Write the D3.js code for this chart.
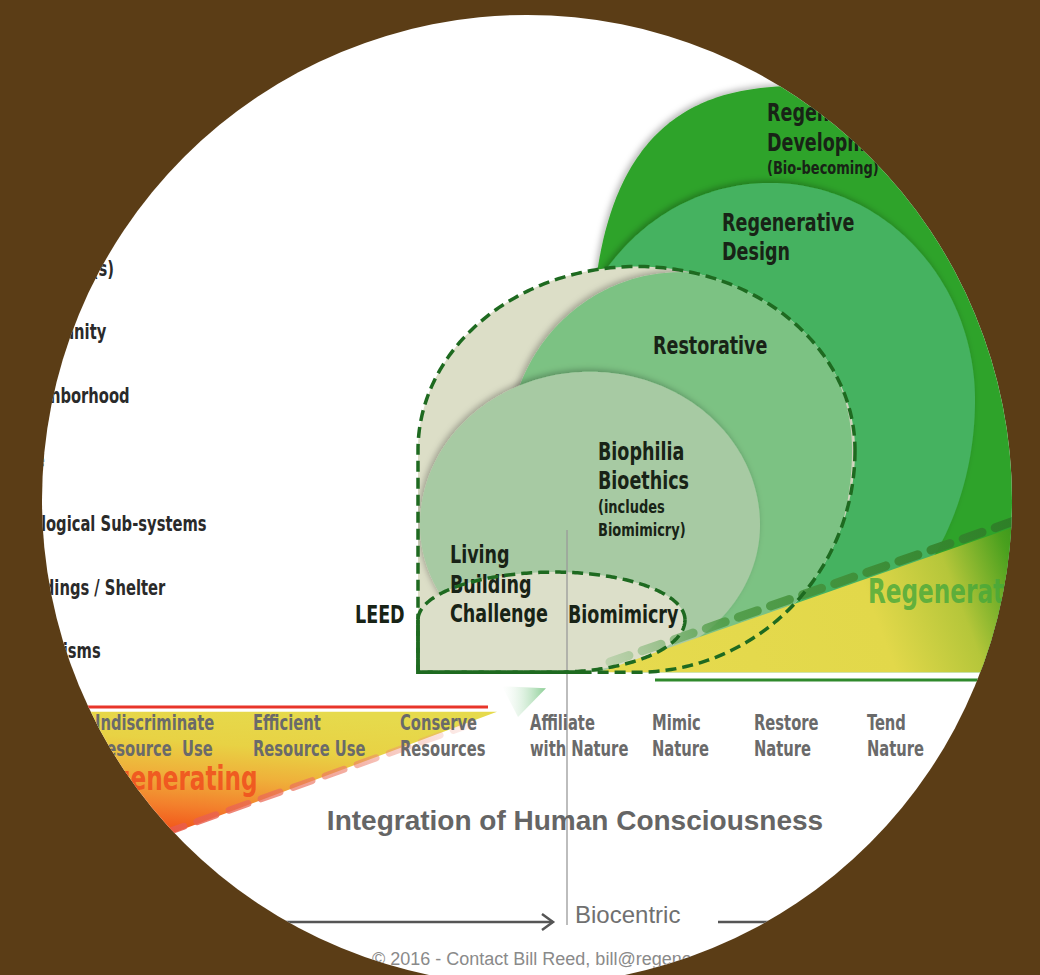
<!DOCTYPE html>
<html><head><meta charset="utf-8">
<script src="https://cdn.jsdelivr.net/npm/d3@7"></script>
<style>
html,body{margin:0;padding:0;background:#5b3d16;}
svg{display:block;}
.cond{font-family:"Liberation Sans Narrow","Arial Narrow","DejaVu Sans Condensed",sans-serif;font-weight:bold;}
.sans{font-family:"Liberation Sans",Arial,Helvetica,sans-serif;}
</style></head><body>
<svg id="chart" width="1040" height="975"></svg>
<script>
// ================= DATA (integration axis u, scale axis v) =================
const scaleLevels = [1, 2, 3, 4, 5, 6, 7];
const scaleLabels = ["Organisms", "Buildings / Shelter", "Ecological Sub-systems", "Site",
                     "Neighborhood", "Community", "Bioregion(s)"];
const stageLabels = [["Indiscriminate", "Resource  Use"], ["Efficient", "Resource Use"],
                     ["Conserve", "Resources"], ["Affiliate", "with Nature"],
                     ["Mimic", "Nature"], ["Restore", "Nature"], ["Tend", "Nature"]];
const stagePositions = [0.55, 2.13, 3.60, 4.90, 6.12, 7.14, 8.27];
const baselineLevel = 0.67;

// approach zones: centre (u,v), half-extents left/right (u), top/bottom (v)
const zoneNames   = ["Regenerative Development", "Regenerative Design", "Envelope",
                     "Restorative", "Biophilia", "Biomimicry"];
const zoneCenterU = [7.90, 7.30, 5.97, 6.40, 5.50, 5.15];
const zoneCenterV = [4.62, 4.94, 4.15, 4.15, 2.98, 1.49];
const zoneLeft    = [2.40, 2.05, 2.19, 1.72, 1.70, 1.37];
const zoneRight   = [2.40, 2.05, 2.18, 1.72, 1.70, 1.30];
const zoneTop     = [5.25, 3.40, 2.88, 2.79, 2.40, 0.75];
const zoneBottom  = [5.25, 4.08, 3.48, 3.48, 2.30, 0.82];
const zoneRound   = [3, 2, 2, 2, 2, 2];
const zoneSquareCorner = [false, false, true, false, false, true];

// trend wedges
const regenWedge = [[5.59, 0.67], [10.2, 0.67], [10.2, 3.20]];
const regenDash  = [[5.70, 0.83], [10.2, 3.29]];
const regenRule  = [[6.15, 0.55], [10.2, 0.55]];
const degenWedge = [[4.57, 0.05], [-0.6, 0.05], [-0.6, -2.98]];
const degenRule  = [[-0.6, 0.125], [4.48, 0.125]];
const degenDash  = [[1.25, -1.85], [4.35, -0.12]];
const chevron    = [[4.62, 0.45], [5.06, 0.42], [4.78, -0.03], [4.71, 0.18]];
const centreLine = [[5.27, 2.90], [5.27, -3.29]];
const axisArrow  = [[2.2, -3.245], [5.13, -3.245]];
const axisArrow2 = [[6.78, -3.245], [8.2, -3.245]];

// labels: text lines, anchor (u,v) of first line
const zoneLabelLines = [["Regenerative", "Development", "(Bio-becoming)"], ["Regenerative", "Design"],
                        ["Restorative"], ["Biophilia", "Bioethics", "(includes", "Biomimicry)"],
                        ["Living", "Building", "Challenge"], ["Biomimicry"], ["LEED"]];
const zoneLabelU = [7.27, 6.82, 6.13, 5.58, 4.10, 5.28, 3.15];
const zoneLabelV = [9.45, 7.73, 5.80, 4.14, 2.52, 1.58, 1.58];
const smallLines = ["(Bio-becoming)", "(includes", "Biomimicry)"];

const titleText = "Integration of Human Consciousness";
const titlePos = [5.35, -1.65];
const biocentricPos = [5.35, -3.26];
const footerText = "\u00A9 2016 - Contact Bill Reed, bill@regenesisgroup.com";
const footerPos = [3.32, -3.92];
const degenText = "Degenerating", degenPos = [0.39, -1.18];
const regenText = "Regenerating", regenPos = [8.28, 1.755];

// ================= STYLE =================
const zoneFill = ["#2fa329", "#44b260", "#dcdec7", "#7cc283", "#a7caa3", "#dcdfc9"];
const W = 1040, H = 975;
const frame = {cx: 527, cy: 500, r: 485};
const narrow = 0.78;   // horizontal squeeze to emulate a narrow bold face

// ================= SCALES =================
const x = d3.scaleLinear().domain([0, 10]).range([40, 1040]);
const y = d3.scaleLinear().domain([0, 7]).range([715, 268.4]);
const line = d3.line().x(d => x(d[0])).y(d => y(d[1]));

const svg = d3.select("#chart");
const defs = svg.append("defs");

defs.append("clipPath").attr("id", "frameClip").append("circle")
  .attr("cx", frame.cx).attr("cy", frame.cy).attr("r", frame.r);
defs.append("clipPath").attr("id", "aboveBase").append("rect")
  .attr("x", 0).attr("y", 0).attr("width", W).attr("height", y(baselineLevel));

const sh = defs.append("filter").attr("id", "shadow").attr("x", "-10%").attr("y", "-10%")
  .attr("width", "120%").attr("height", "120%");
sh.append("feDropShadow").attr("dx", -2).attr("dy", -2).attr("stdDeviation", 3)
  .attr("flood-color", "#000").attr("flood-opacity", 0.28);

function grad(id, x1, y1, x2, y2, stops) {
  const gr = defs.append("linearGradient").attr("id", id).attr("gradientUnits", "userSpaceOnUse")
    .attr("x1", x1).attr("y1", y1).attr("x2", x2).attr("y2", y2);
  stops.forEach(s => gr.append("stop").attr("offset", s[0]).attr("stop-color", s[1])
    .attr("stop-opacity", s[2] == null ? 1 : s[2]));
}
grad("regenGrad", x(regenWedge[0][0]) + 20, y(regenWedge[0][1]), x(9.7), y(3.0),
  [[0, "#e6da4e"], [0.62, "#e2d84a"], [0.82, "#b5c63a"], [0.97, "#4aa01e"], [1, "#3f9a1c"]]);
grad("degenGrad", x(2.6), y(0.05), x(2.5), y(-1.95),
  [[0, "#e6da4c"], [0.3, "#e8d244"], [0.55, "#efb03a"], [0.8, "#f3802c"], [1, "#f2561a"]]);
grad("regenDashGrad", x(regenDash[0][0]), y(regenDash[0][1]), x(regenDash[1][0]), y(regenDash[1][1]),
  [[0, "#9cc490", 0.5], [0.25, "#4e9a45", 0.85], [1, "#287a22", 1]]);
grad("degenDashGrad", x(degenDash[0][0]), y(degenDash[0][1]), x(degenDash[1][0]), y(degenDash[1][1]),
  [[0, "#e85a48", 0.9], [0.6, "#ec7a66", 0.6], [1, "#f0a090", 0.15]]);
grad("chevGrad", x(chevron[0][0]), 0, x(chevron[1][0]), 0,
  [[0, "#ffffff", 0.2], [1, "#7fc98a", 0.9]]);

// zone outline generator
function zonePath(i) {
  const cx = x(zoneCenterU[i]), cy = y(zoneCenterV[i]);
  const rl = cx - x(zoneCenterU[i] - zoneLeft[i]);
  const rr = x(zoneCenterU[i] + zoneRight[i]) - cx;
  const rt = cy - y(zoneCenterV[i] + zoneTop[i]);
  const rb = y(zoneCenterV[i] - zoneBottom[i]) - cy;
  const e = 2 / zoneRound[i];
  const pts = [];
  let corner = false;
  const N = 360;
  for (let k = 0; k <= N; k++) {
    const t = k / N * 2 * Math.PI;
    const c = Math.cos(t), s = Math.sin(t);
    if (zoneSquareCorner[i] && c < -1e-9 && s > 1e-9) {
      if (!corner) { pts.push([cx - rl, cy + rb]); corner = true; }
      continue;
    }
    pts.push([cx + (c >= 0 ? rr : rl) * Math.sign(c) * Math.pow(Math.abs(c), e),
              cy + (s >= 0 ? rb : rt) * Math.sign(s) * Math.pow(Math.abs(s), e)]);
  }
  return d3.line()(pts) + "Z";
}
// squeeze a condensed text horizontally around its anchor
function squeeze(sel, ax) {
  sel.attr("transform", `translate(${ax},0) scale(${narrow},1) translate(${-ax},0)`);
  return sel;
}

// ================= DRAW =================
svg.append("rect").attr("width", W).attr("height", H).attr("fill", "#5b3d16");
svg.append("circle").attr("cx", frame.cx).attr("cy", frame.cy).attr("r", frame.r).attr("fill", "#ffffff");

const g = svg.append("g").attr("clip-path", "url(#frameClip)");

// domes
const domes = g.append("g").attr("clip-path", "url(#aboveBase)");
[0, 1].forEach(i => domes.append("path").attr("d", zonePath(i)).attr("fill", zoneFill[i])
  .attr("filter", "url(#shadow)"));

// envelope
defs.append("clipPath").attr("id", "envClip").append("path").attr("d", zonePath(2));
domes.append("path").attr("d", zonePath(2)).attr("fill", zoneFill[2]);
const inner = g.append("g").attr("clip-path", "url(#envClip)");
[3, 4].forEach(i => inner.append("path").attr("d", zonePath(i)).attr("fill", zoneFill[i])
  .attr("filter", "url(#shadow)"));
g.append("path").attr("d", zonePath(5)).attr("fill", zoneFill[5]);

// regenerating wedge
g.append("path").attr("d", line(regenWedge) + "Z").attr("fill", "url(#regenGrad)");
g.append("path").attr("d", line(regenRule)).attr("stroke", "#2f8a2c").attr("stroke-width", 3).attr("fill", "none");
g.append("path").attr("d", line(regenDash)).attr("stroke", "url(#regenDashGrad)").attr("stroke-width", 9)
  .attr("stroke-dasharray", "20 14").attr("stroke-linecap", "round").attr("fill", "none");
squeeze(g.append("text").attr("class", "cond").attr("x", x(regenPos[0])).attr("y", y(regenPos[1]))
  .attr("font-size", 33).attr("fill", "#45a83b").attr("fill-opacity", 0.8).text(regenText), x(regenPos[0]));

// centre line
g.append("path").attr("d", line(centreLine)).attr("stroke", "#9a9a9a").attr("stroke-width", 1.3).attr("fill", "none");

// zone labels
zoneLabelLines.forEach((lines, i) => {
  const t = g.append("text").attr("class", "cond").attr("fill", "#182316")
    .attr("x", x(zoneLabelU[i])).attr("y", y(zoneLabelV[i])).attr("dominant-baseline", "central");
  let prevSmall = false;
  lines.forEach((ln, j) => {
    const small = smallLines.includes(ln);
    const dy = j === 0 ? 0 : (small ? (prevSmall ? 23 : 26) : 29.5);
    t.append("tspan").attr("x", x(zoneLabelU[i])).attr("dy", dy)
      .attr("font-size", small ? 18.5 : 25).text(ln);
    prevSmall = small;
  });
  squeeze(t, x(zoneLabelU[i]));
});

// outlines
g.append("path").attr("d", zonePath(2)).attr("fill", "none").attr("stroke", "#1e6a20")
  .attr("stroke-width", 3.5).attr("stroke-dasharray", "11 6");
g.append("path").attr("d", zonePath(5)).attr("fill", "none").attr("stroke", "#1e6a20")
  .attr("stroke-width", 3.5).attr("stroke-dasharray", "11 6");
const bx0 = zoneCenterU[5] - zoneLeft[5], by0 = zoneCenterV[5] - zoneBottom[5];
g.append("path").attr("d", line([[bx0, zoneCenterV[5]], [bx0, by0], [zoneCenterU[5] + 0.3, by0]]))
  .attr("fill", "none").attr("stroke", "#1e6a20").attr("stroke-width", 3.5);

// degenerating wedge
g.append("path").attr("d", line(degenWedge) + "Z").attr("fill", "url(#degenGrad)");
g.append("path").attr("d", line(degenRule)).attr("stroke", "#e8352a").attr("stroke-width", 3).attr("fill", "none");
g.append("path").attr("d", line(degenDash)).attr("stroke", "url(#degenDashGrad)").attr("stroke-width", 7)
  .attr("stroke-dasharray", "20 14").attr("stroke-linecap", "round").attr("fill", "none");
squeeze(g.append("text").attr("class", "cond").attr("x", x(degenPos[0])).attr("y", y(degenPos[1]))
  .attr("font-size", 33).attr("fill", "#f0501e").attr("fill-opacity", 0.9).text(degenText), x(degenPos[0]));

// chevron
g.append("path").attr("d", line(chevron) + "Z").attr("fill", "url(#chevGrad)");

// stage labels
stageLabels.forEach((lines, i) => {
  const t = g.append("text").attr("class", "cond").attr("fill", "#6a6a6a").attr("font-size", 21)
    .attr("x", x(stagePositions[i])).attr("y", y(-0.11)).attr("dominant-baseline", "central")
    .attr("xml:space", "preserve").style("white-space", "pre");
  lines.forEach((ln, j) => t.append("tspan").attr("x", x(stagePositions[i])).attr("dy", j ? 26 : 0).text(ln));
  squeeze(t, x(stagePositions[i]));
});

// scale labels
scaleLabels.forEach((lb, i) => {
  squeeze(g.append("text").attr("class", "cond").attr("fill", "#2a2a2a").attr("font-size", 21)
    .attr("x", x(-0.28)).attr("y", y(scaleLevels[i])).attr("dominant-baseline", "central").text(lb), x(-0.28));
});

// title & axis
g.append("text").attr("class", "sans").attr("font-weight", "bold").attr("font-size", 28)
  .attr("fill", "#656565").attr("text-anchor", "middle").attr("dominant-baseline", "central")
  .attr("x", x(titlePos[0])).attr("y", y(titlePos[1])).text(titleText);
g.append("path").attr("d", line(axisArrow)).attr("stroke", "#555").attr("stroke-width", 2.5).attr("fill", "none");
g.append("path").attr("d", line(axisArrow2)).attr("stroke", "#555").attr("stroke-width", 2.5).attr("fill", "none");
const ax = x(axisArrow[1][0]), ay = y(axisArrow[1][1]);
g.append("path").attr("d", d3.line()([[ax - 11, ay - 8], [ax, ay], [ax - 11, ay + 8]]))
  .attr("stroke", "#555").attr("stroke-width", 2.5).attr("fill", "none");
g.append("text").attr("class", "sans").attr("font-size", 24).attr("fill", "#707070")
  .attr("x", x(biocentricPos[0])).attr("y", y(biocentricPos[1])).text("Biocentric");
g.append("text").attr("class", "sans").attr("font-size", 18).attr("fill", "#8a8a8a")
  .attr("x", x(footerPos[0])).attr("y", y(footerPos[1])).text(footerText);
</script>
</body></html>
